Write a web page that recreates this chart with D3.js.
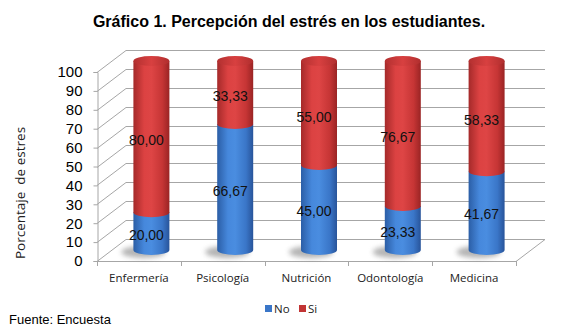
<!DOCTYPE html>
<html><head><meta charset="utf-8">
<script src="https://cdn.jsdelivr.net/npm/d3@7"></script>
<style>
html,body{margin:0;padding:0;background:#fff;}
svg{display:block;}
</style>
</head><body>
<svg id="chart" width="574" height="328"></svg>
<script>
const categories = ["Enfermería", "Psicología", "Nutrición", "Odontología", "Medicina"];
const noValues = [20.00, 66.67, 45.00, 23.33, 41.67];
const siValues = [80.00, 33.33, 55.00, 76.67, 58.33];
const seriesNames = ["No", "Si"];
const yTicks = [0, 10, 20, 30, 40, 50, 60, 70, 80, 90, 100];
const titleText = "Gráfico 1. Percepción del estrés en los estudiantes.";
const yTitle = "Porcentaje  de estres";
const sourceText = "Fuente: Encuesta";

const svg = d3.select("#chart");
const defs = svg.append("defs");

// geometry
const frontLeft = 97, frontRight = 516, frontBottom = 261, frontTop = 72;
const depthX = 29, depthY = -22;
const backRight = 545;

const x = d3.scaleBand().domain(categories).range([frontLeft, frontRight]).paddingInner(0).paddingOuter(0);
const y = d3.scaleLinear().domain([0, 100]).range([frontBottom, frontTop]);

const fmt = v => v.toFixed(2).replace(".", ",");

// gradients
function hGrad(id, stops) {
  const g = defs.append("linearGradient").attr("id", id).attr("x1", "0").attr("x2", "1").attr("y1", "0").attr("y2", "0");
  stops.forEach(s => g.append("stop").attr("offset", s[0]).attr("stop-color", s[1]));
}
hGrad("gBlue", [[0, "#2b5ea6"], [0.3, "#4688dc"], [0.5, "#4a8de0"], [0.8, "#3a76c8"], [1, "#28549a"]]);
hGrad("gRed", [[0, "#a52a2a"], [0.3, "#dc4242"], [0.5, "#de4545"], [0.8, "#c63535"], [1, "#9a2424"]]);
hGrad("gRedTop", [[0, "#b33030"], [0.5, "#d84040"], [1, "#b02e2e"]]);
const blur = defs.append("filter").attr("id", "shadowBlur").attr("x", "-50%").attr("y", "-100%").attr("width", "200%").attr("height", "300%");
blur.append("feGaussianBlur").attr("stdDeviation", 2.5);

// grid lines (left wall diagonals + back wall)
const grid = svg.append("g").attr("stroke", "#a6a6a6").attr("fill", "none").attr("stroke-width", 1);
yTicks.forEach(t => {
  const yy = Math.round(y(t)) + 0.5;
  grid.append("path").attr("d", `M${frontLeft},${yy} L${frontLeft + depthX},${yy + depthY} L${backRight},${yy + depthY}`);
});
// floor right edge + front edge
grid.append("path").attr("d", `M${frontLeft},${frontBottom + 0.5} L${frontRight},${frontBottom + 0.5} L${backRight},${frontBottom + 0.5 + depthY}`);

// y axis (front)
const yAxis = d3.axisLeft(y).tickValues(yTicks).tickSize(4).tickPadding(11).tickFormat(d3.format("d"));
const yg = svg.append("g").attr("transform", `translate(${frontLeft + 0.5},0)`).call(yAxis);
yg.select(".domain").attr("stroke", "#a6a6a6");
yg.selectAll(".tick line").attr("stroke", "#a6a6a6");
yg.selectAll(".tick text").attr("font-family", "Liberation Sans, Arial, sans-serif").attr("font-size", 15).attr("fill", "#000");

// x axis ticks at band boundaries
const xg = svg.append("g");
const bounds = categories.map(c => x(c)).concat([x(categories[categories.length - 1]) + x.bandwidth()]);
bounds.forEach(b => {
  xg.append("line").attr("x1", Math.round(b) + 0.5).attr("x2", Math.round(b) + 0.5)
    .attr("y1", frontBottom).attr("y2", frontBottom + 5).attr("stroke", "#a6a6a6");
});
categories.forEach(c => {
  xg.append("text").attr("x", x(c) + x.bandwidth() / 2).attr("y", 282)
    .attr("text-anchor", "middle").attr("font-family", "Open Sans, sans-serif").attr("font-size", 11.5)
    .attr("fill", "#222").text(c);
});

// cylinders
const t = 0.5; // depth fraction for cylinder axis
const rx = 18, ry = 5;
const yc = v => y(v) + depthY * t;
const cyl = svg.append("g");
categories.forEach((c, i) => {
  const cx = x(c) + x.bandwidth() / 2 + depthX * t - 2;
  const x0 = cx - rx, x1 = cx + rx;
  const y0 = yc(0), yB = yc(noValues[i]), yT = yc(noValues[i] + siValues[i]);
  // shadow
  cyl.append("ellipse").attr("cx", cx - 8).attr("cy", y0 + 2).attr("rx", rx + 4).attr("ry", ry + 1)
    .attr("fill", "#777").attr("opacity", 0.55).attr("filter", "url(#shadowBlur)");
  // blue segment
  cyl.append("path").attr("d", `M${x0},${yB} H${x1} V${y0} A${rx},${ry} 0 0 1 ${x0},${y0} Z`).attr("fill", "url(#gBlue)");
  // red segment
  cyl.append("path").attr("d", `M${x0},${yT} H${x1} V${yB} A${rx},${ry} 0 0 1 ${x0},${yB} Z`).attr("fill", "url(#gRed)");
  // top
  cyl.append("ellipse").attr("cx", cx).attr("cy", yT).attr("rx", rx).attr("ry", ry).attr("fill", "url(#gRedTop)");
  // labels
  const lx = cx - 5;
  const lt = 0.33;
  const yl = v => y(v) + depthY * lt;
  cyl.append("text").attr("x", lx).attr("y", yl(noValues[i] / 2)).attr("dy", "0.36em")
    .attr("text-anchor", "middle").attr("font-family", "Liberation Sans, Arial, sans-serif").attr("font-size", 14)
    .attr("fill", "#111").text(fmt(noValues[i]));
  cyl.append("text").attr("x", lx).attr("y", yl(noValues[i] + siValues[i] / 2)).attr("dy", "0.36em")
    .attr("text-anchor", "middle").attr("font-family", "Liberation Sans, Arial, sans-serif").attr("font-size", 14)
    .attr("fill", "#111").text(fmt(siValues[i]));
});

// title
svg.append("text").attr("x", 289).attr("y", 27).attr("text-anchor", "middle")
  .attr("font-family", "Liberation Sans, Arial, sans-serif").attr("font-weight", "bold").attr("font-size", 16)
  .attr("fill", "#000").text(titleText);

// y title
svg.append("text").attr("transform", "translate(25,193) rotate(-90)").attr("text-anchor", "middle")
  .attr("font-family", "Open Sans, sans-serif").attr("font-size", 13.5).attr("fill", "#222")
  .style("white-space", "pre").attr("xml:space", "preserve").text(yTitle);

// legend
const colors = ["#3a76c8", "#c23434"];
const lg = svg.append("g");
const legendX = [265, 299];
seriesNames.forEach((s, i) => {
  lg.append("rect").attr("x", legendX[i]).attr("y", 305).attr("width", 7).attr("height", 7).attr("fill", colors[i]);
  lg.append("text").attr("x", legendX[i] + 9).attr("y", 313).attr("font-family", "Open Sans, sans-serif")
    .attr("font-size", 11.5).attr("fill", "#222").text(s);
});

// source
svg.append("text").attr("x", 9).attr("y", 324).attr("font-family", "Liberation Sans, Arial, sans-serif")
  .attr("font-size", 13).attr("fill", "#000").text(sourceText);
</script>
</body></html>
